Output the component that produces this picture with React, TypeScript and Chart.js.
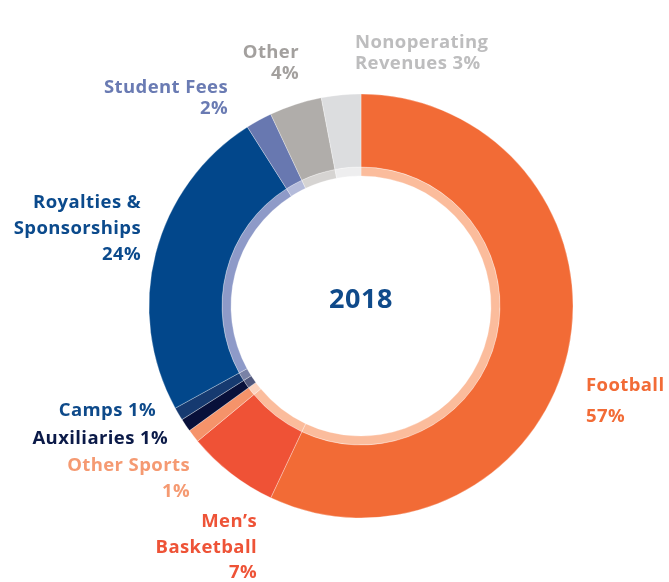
import React, { useEffect, useRef } from "react";
import { Chart, registerables } from "chart.js";

Chart.register(...registerables);

const categories = [
  "Football",
  "Men's Basketball",
  "Other Sports",
  "Auxiliaries",
  "Camps",
  "Royalties & Sponsorships",
  "Student Fees",
  "Other",
  "Nonoperating Revenues",
];
const shares = [57, 7, 1, 1, 1, 24, 2, 4, 3];
const mainColors = [
  "#F26B36",
  "#EF5236",
  "#F5936A",
  "#08103A",
  "#163A70",
  "#02478B",
  "#6878B0",
  "#B0ADAA",
  "#DCDDDF",
];
const bandColors = [
  "#FBBC9C",
  "#FBBC9C",
  "#FCD3BE",
  "#50577C",
  "#7A82A6",
  "#8E9AC8",
  "#B4BBDA",
  "#D6D4D2",
  "#EEEEEF",
];
const centerTitle = "2018";

type Lbl = { lines: string[]; x: number; y: number; align: CanvasTextAlign; color: string };
const labels: Lbl[] = [
  { lines: ["Football", "57%"], x: 586, y: 391, align: "left", color: "#F26B36" },
  { lines: ["Men\u2019s", "Basketball", "7%"], x: 257, y: 527, align: "right", color: "#EE5337" },
  { lines: ["Other Sports", "1%"], x: 190, y: 471, align: "right", color: "#F59A72" },
  { lines: ["Auxiliaries 1%"], x: 168, y: 444, align: "right", color: "#0B1A48" },
  { lines: ["Camps 1%"], x: 156, y: 416, align: "right", color: "#0E4A8A" },
  { lines: ["Royalties &", "Sponsorships", "24%"], x: 141, y: 208, align: "right", color: "#0B4A8C" },
  { lines: ["Student Fees", "2%"], x: 228, y: 93, align: "right", color: "#6A7BB3" },
  { lines: ["Other", "4%"], x: 299, y: 58, align: "right", color: "#A3A09E" },
  { lines: ["Nonoperating", "Revenues 3%"], x: 355, y: 48, align: "left", color: "#BDBDBE" },
];
const lineGaps = [31, 25.5, 26, 0, 0, 26, 21, 21, 21];

const FONT = "'Open Sans', sans-serif";
const OUTER_R = 212;
const INNER_R = 130;

const labelPlugin = {
  id: "labelPlugin",
  afterDraw(chart: any) {
    const ctx = chart.ctx as CanvasRenderingContext2D;
    ctx.save();
    ctx.font = `bold 18.5px ${FONT}`;
    (ctx as any).letterSpacing = "0.4px";
    ctx.textBaseline = "alphabetic";
    labels.forEach((l, i) => {
      ctx.fillStyle = l.color;
      ctx.textAlign = l.align;
      l.lines.forEach((t, j) => {
        ctx.fillText(t, l.x, l.y + j * lineGaps[i]);
      });
    });
    const meta = chart.getDatasetMeta(0);
    const arc = meta.data[0];
    ctx.font = `bold 27px ${FONT}`;
    (ctx as any).letterSpacing = "0.5px";
    ctx.fillStyle = "#0F4A8A";
    ctx.textAlign = "center";
    ctx.fillText(centerTitle, arc.x, 308);
    ctx.restore();
  },
};

export default function App() {
  const ref = useRef<HTMLCanvasElement | null>(null);
  useEffect(() => {
    if (!ref.current) return;
    const chart = new Chart(ref.current, {
      type: "doughnut",
      data: {
        labels: categories,
        datasets: [
          { data: shares, backgroundColor: mainColors, borderWidth: 0.5, borderColor: "rgba(255,255,255,0.6)", weight: 73 } as any,
          { data: shares, backgroundColor: bandColors, borderWidth: 0.5, borderColor: "rgba(255,255,255,0.6)", weight: 9 } as any,
        ],
      },
      options: {
        responsive: false,
        animation: false,
        radius: OUTER_R,
        cutout: `${(INNER_R / OUTER_R) * 100}%`,
        layout: { padding: { left: 53, top: 30, right: 0, bottom: 0 } },
        plugins: { legend: { display: false }, tooltip: { enabled: false } },
      } as any,
      plugins: [labelPlugin],
    });
    return () => chart.destroy();
  }, []);
  return (
    <div style={{ position: "absolute", left: 0, top: 0, width: 669, height: 582, background: "#fff" }}>
      <canvas ref={ref} width={669} height={582} />
    </div>
  );
}
